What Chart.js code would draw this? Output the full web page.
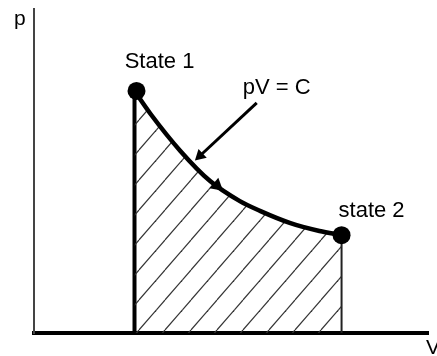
<!DOCTYPE html>
<html>
<head>
<meta charset="utf-8">
<script src="https://cdn.jsdelivr.net/npm/chart.js@4"></script>
<style>
  html, body { margin: 0; padding: 0; background: #fff; }
  #wrap { width: 437px; height: 356px; }
</style>
</head>
<body>
<div id="wrap"><canvas id="pv-chart" width="437" height="356"></canvas></div>
<script>
// values (arbitrary units)
const curveV = [2.50, 2.90, 3.64, 4.38, 5.12, 5.62, 6.36, 7.10, 7.65];
const curveP = [7.47, 6.76, 5.62, 4.69, 4.07, 3.77, 3.40, 3.15, 3.02];
const stateNames = ['State 1', 'state 2'];
const stateV = [2.55, 7.65];
const stateP = [7.47, 3.02];
const arrowV = [5.54, 4.13];
const arrowP = [7.10, 5.47];
const flowV = [4.55];
const flowP = [4.55];

// hatch pattern for the work area
function hatch() {
  const c = document.createElement('canvas');
  c.width = 26; c.height = 30;
  const g = c.getContext('2d');
  g.strokeStyle = '#333';
  g.lineWidth = 1.2;
  for (const dx of [-26, 0, 26]) {
    g.beginPath();
    g.moveTo(9 + dx, 30);
    g.lineTo(9 + dx + 26, 0);
    g.stroke();
  }
  return g.createPattern(c, 'repeat');
}

const pts = (xs, ys) => xs.map((x, i) => ({ x: x, y: ys[i] }));

const labels = {
  id: 'labels',
  afterDraw(chart) {
    const { ctx, chartArea } = chart;
    const x = chart.scales.x, y = chart.scales.y;
    ctx.save();
    ctx.fillStyle = '#000';
    ctx.font = '22px "Liberation Sans", Arial, sans-serif';
    ctx.textBaseline = 'alphabetic';
    ctx.textAlign = 'center';
    ctx.fillText(stateNames[0], x.getPixelForValue(stateV[0]) + 23, y.getPixelForValue(stateP[0]) - 23);
    ctx.fillText(stateNames[1], x.getPixelForValue(stateV[1]) + 30, y.getPixelForValue(stateP[1]) - 18);
    ctx.fillText('pV = C', x.getPixelForValue(arrowV[0]) + 20, y.getPixelForValue(arrowP[0]) - 9);
    ctx.font = '21px "Liberation Sans", Arial, sans-serif';
    ctx.textAlign = 'left';
    ctx.fillText('p', chartArea.left - 20, chartArea.top + 16);
    ctx.fillText('V', chartArea.right - 2, chartArea.bottom + 21);
    ctx.restore();
  }
};

new Chart(document.getElementById('pv-chart'), {
  type: 'scatter',
  data: {
    datasets: [
      {
        label: 'states',
        data: pts(stateV, stateP),
        pointRadius: 9,
        pointBackgroundColor: '#000',
        pointBorderWidth: 0,
        showLine: false,
        clip: false
      },
      {
        label: 'arrow',
        data: pts(arrowV, arrowP),
        showLine: true,
        borderColor: '#000',
        borderWidth: 3,
        pointRadius: [0, 7],
        pointStyle: 'triangle',
        pointRotation: 227,
        pointBackgroundColor: '#000',
        pointBorderWidth: 0
      },
      {
        label: 'flow',
        data: pts(flowV, flowP),
        pointRadius: 8,
        pointStyle: 'triangle',
        pointRotation: 130,
        pointBackgroundColor: '#000',
        pointBorderWidth: 0
      },
      {
        label: 'pV = C',
        data: pts(curveV, curveP),
        showLine: true,
        borderColor: '#000',
        borderWidth: 4.5,
        pointRadius: 0,
        cubicInterpolationMode: 'monotone',
        fill: 'origin',
        backgroundColor: hatch(),
        clip: false
      },
      {
        label: 'V1',
        data: pts([curveV[0], curveV[0]], [0, curveP[0]]),
        showLine: true,
        borderColor: '#000',
        borderWidth: 4,
        pointRadius: 0,
        clip: false
      },
      {
        label: 'V2',
        data: pts([curveV[8], curveV[8]], [0, curveP[8]]),
        showLine: true,
        borderColor: '#222',
        borderWidth: 2,
        pointRadius: 0,
        clip: false
      }
    ]
  },
  options: {
    responsive: false,
    devicePixelRatio: 1,
    animation: false,
    layout: { padding: { left: 26, top: 8, right: -5, bottom: 15 } },
    plugins: {
      legend: { display: false },
      tooltip: { enabled: false }
    },
    scales: {
      x: {
        type: 'linear', min: 0, max: 9.8,
        ticks: { display: false },
        grid: { display: false },
        border: { display: true, color: '#000', width: 4 }
      },
      y: {
        type: 'linear', min: 0, max: 10,
        ticks: { display: false },
        grid: { display: false },
        border: { display: true, color: '#444', width: 2 }
      }
    }
  },
  plugins: [labels]
});
</script>
</body>
</html>
